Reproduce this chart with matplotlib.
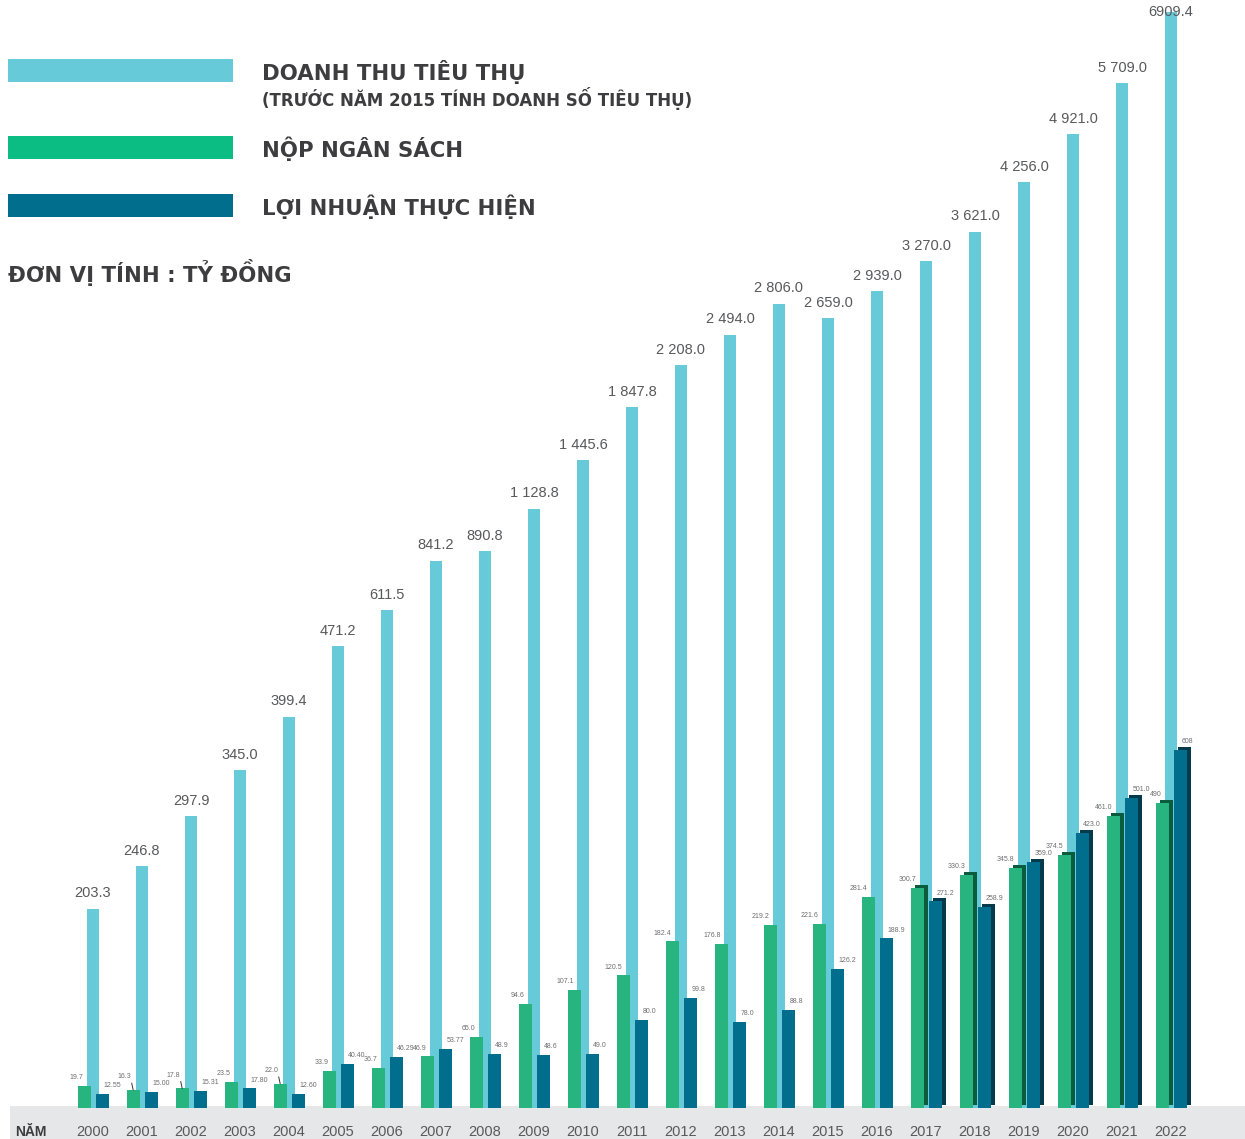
import numpy as np
import matplotlib
matplotlib.use("Agg")
import matplotlib.pyplot as plt
from matplotlib.patches import Rectangle
from matplotlib.transforms import offset_copy

# Data (ty dong)
years = [str(y) for y in range(2000, 2023)]
doanh_thu = [203.3, 246.8, 297.9, 345.0, 399.4, 471.2, 611.5, 841.2, 890.8, 1128.8,
             1445.6, 1847.8, 2208.0, 2494.0, 2806.0, 2659.0, 2939.0, 3270.0, 3621.0,
             4256.0, 4921.0, 5709.0, 6909.4]
doanh_thu_labels = ["203.3", "246.8", "297.9", "345.0", "399.4", "471.2", "611.5", "841.2",
                    "890.8", "1 128.8", "1 445.6", "1 847.8", "2 208.0", "2 494.0", "2 806.0",
                    "2 659.0", "2 939.0", "3 270.0", "3 621.0", "4 256.0", "4 921.0",
                    "5 709.0", "6909.4"]
ngan_sach = [19.7, 16.3, 17.8, 23.5, 22.0, 33.9, 36.7, 46.9, 65.0, 94.6, 107.1, 120.5,
             182.4, 176.8, 219.2, 221.6, 281.4, 300.7, 330.3, 345.8, 374.5, 461.0, 490.0]
ngan_sach_labels = ["19.7", "16.3", "17.8", "23.5", "22.0", "33.9", "36.7", "46.9", "65.0",
                    "94.6", "107.1", "120.5", "182.4", "176.8", "219.2", "221.6", "281.4",
                    "300.7", "330.3", "345.8", "374.5", "461.0", "490"]
loi_nhuan = [12.55, 15.00, 15.31, 17.80, 12.60, 40.40, 46.29, 53.77, 48.9, 48.6, 49.0, 80.0,
             99.8, 78.0, 88.8, 126.2, 188.9, 271.2, 258.9, 359.0, 423.0, 501.0, 608.0]
loi_nhuan_labels = ["12.55", "15.00", "15.31", "17.80", "12.60", "40.40", "46.29", "53.77",
                    "48.9", "48.6", "49.0", "80.0", "99.8", "78.0", "88.8", "126.2", "188.9",
                    "271.2", "258.9", "359.0", "423.0", "501.0", "608"]
leader_years = ["2001", "2002", "2004"]   # small labels with a pointer line
first_3d_year = "2017"

# Colors
C_LIGHT = "#66cad8"
C_GREEN = "#27b47f"
C_GREEN_SIDE = "#0b5c3e"
C_DARK = "#006e8c"
C_DARK_SIDE = "#053a4c"
C_TEXT = "#3d3d3f"

W, H = 1245, 1139
BASE = 1108      # pixel row of the bar base
PITCH = 49       # pixels between years
X0 = 93          # pixel center of first year


# the artwork is not to a linear scale: linear at the bottom, compressed higher up
def light_fwd(v):
    v = np.asarray(v, dtype=float)
    return np.where(v <= 471, 0.98 * v,
                    0.98 * 471 + 28.05 * (np.maximum(v, 471) ** 0.4 - 471 ** 0.4))


def light_inv(h):
    h = np.asarray(h, dtype=float)
    t = np.maximum((h - 0.98 * 471) / 28.05 + 471 ** 0.4, 0)
    return np.where(h <= 0.98 * 471, h / 0.98, t ** 2.5)


def small_fwd(v):
    v = np.asarray(v, dtype=float)
    return np.where(v <= 130, 1.1 * v, 1.1 * 130 + 0.45 * (v - 130))


def small_inv(h):
    h = np.asarray(h, dtype=float)
    return np.where(h <= 1.1 * 130, h / 1.1, 130 + (h - 1.1 * 130) / 0.45)


fig = plt.figure(figsize=(W / 100, H / 100), dpi=100)
fig.patch.set_facecolor("white")


def fx(px):
    return px / W


def fy(py):
    return 1 - py / H


# grey strip under the bars
fig.patches.append(Rectangle((fx(10), 0), fx(W - 10), fy(1106), transform=fig.transFigure,
                             facecolor="#e6e7e8", edgecolor="none", zorder=-5))

ax = fig.add_axes([0, fy(BASE), 1, BASE / H])
ax2 = ax.twinx()

ax.set_yscale("function", functions=(light_fwd, light_inv))
ax.set_ylim(0, float(light_inv(BASE)))
ax2.set_yscale("function", functions=(small_fwd, small_inv))
ax2.set_ylim(0, float(small_inv(BASE)))

for a in (ax, ax2):
    a.patch.set_visible(False)
    for s in a.spines.values():
        s.set_visible(False)
    a.tick_params(axis="y", which="both", left=False, right=False,
                  labelleft=False, labelright=False)

xmin = -X0 / PITCH
ax.set_xlim(xmin, xmin + W / PITCH)

x = np.arange(len(years))
wl = 12.5 / PITCH
ws = 13 / PITCH
xg = x - 8.8 / PITCH
xd = x + 9.6 / PITCH

# revenue bars (behind)
ax.bar(x, doanh_thu, width=wl, color=C_LIGHT, zorder=1)
top_i = int(np.argmax(doanh_thu))
for i, (v, lab) in enumerate(zip(doanh_thu, doanh_thu_labels)):
    if i == top_i:
        ax.annotate(lab, (x[i], v), xytext=(0, 0), textcoords="offset points",
                    ha="center", va="center", fontsize=10.5, color="#58595b",
                    family="Liberation Sans", annotation_clip=False, zorder=5)
    else:
        ax.annotate(lab, (x[i], v), xytext=(0, 6), textcoords="offset points",
                    ha="center", va="bottom", fontsize=10.5, color="#58595b",
                    family="Liberation Sans", zorder=5)

# 3D look for the latest years: a darker copy shifted up-right
i3 = years.index(first_3d_year)
side = offset_copy(ax2.transData, fig=fig, x=4, y=3, units="dots")
ax2.bar(xg[i3:], ngan_sach[i3:], width=ws, color=C_GREEN_SIDE, transform=side, zorder=1)
ax2.bar(xd[i3:], loi_nhuan[i3:], width=ws, color=C_DARK_SIDE, transform=side, zorder=1)

ax2.bar(xg, ngan_sach, width=ws, color=C_GREEN, zorder=2)
ax2.bar(xd, loi_nhuan, width=ws, color=C_DARK, zorder=2)

small = dict(fontsize=5, color="#6d6e71", family="Liberation Sans", zorder=5)
for i in range(len(years)):
    if years[i] in leader_years:
        ax2.annotate(ngan_sach_labels[i], (xg[i], ngan_sach[i]), xytext=(-1.5, 7),
                     textcoords="offset points", ha="right", va="bottom",
                     arrowprops=dict(arrowstyle="-", color="#333333", lw=0.7,
                                     relpos=(1, 0), shrinkA=0, shrinkB=0), **small)
    else:
        ax2.annotate(ngan_sach_labels[i], (xg[i], ngan_sach[i]), xytext=(-0.5, 3.5),
                     textcoords="offset points", ha="right", va="bottom", **small)
    ax2.annotate(loi_nhuan_labels[i], (xd[i], loi_nhuan[i]), xytext=(0.5, 3.5),
                 textcoords="offset points", ha="left", va="bottom", **small)

# year labels
ax.set_xticks(x)
ax.set_xticklabels(years, fontsize=10.5, color="#58595b", family="Liberation Sans")
ax.tick_params(axis="x", length=0, pad=12)
fig.text(fx(15), fy(1136), "NĂM", fontsize=10, fontweight="bold", color=C_TEXT,
         family="Liberation Sans", ha="left", va="baseline")

# legend
legend = [(59, C_LIGHT, "DOANH THU TIÊU THỤ", 80),
          (136, "#0bbd83", "NỘP NGÂN SÁCH", 157),
          (194, C_DARK, "LỢI NHUẬN THỰC HIỆN", 215)]
for top, col, txt, base in legend:
    fig.patches.append(Rectangle((fx(8), fy(top + 23)), fx(225), 23 / H,
                                 transform=fig.transFigure, facecolor=col, edgecolor="none"))
    fig.text(fx(262), fy(base), txt, fontsize=15.3, fontweight="bold", color=C_TEXT,
             family="DejaVu Sans", ha="left", va="baseline")
fig.text(fx(262), fy(106), "(TRƯỚC NĂM 2015 TÍNH DOANH SỐ TIÊU THỤ)", fontsize=12,
         fontweight="bold", color=C_TEXT, family="DejaVu Sans", ha="left", va="baseline")
fig.text(fx(8), fy(282), "ĐƠN VỊ TÍNH : TỶ ĐỒNG", fontsize=15.3, fontweight="bold",
         color=C_TEXT, family="DejaVu Sans", ha="left", va="baseline")

fig.savefig("out.png", dpi=100)
